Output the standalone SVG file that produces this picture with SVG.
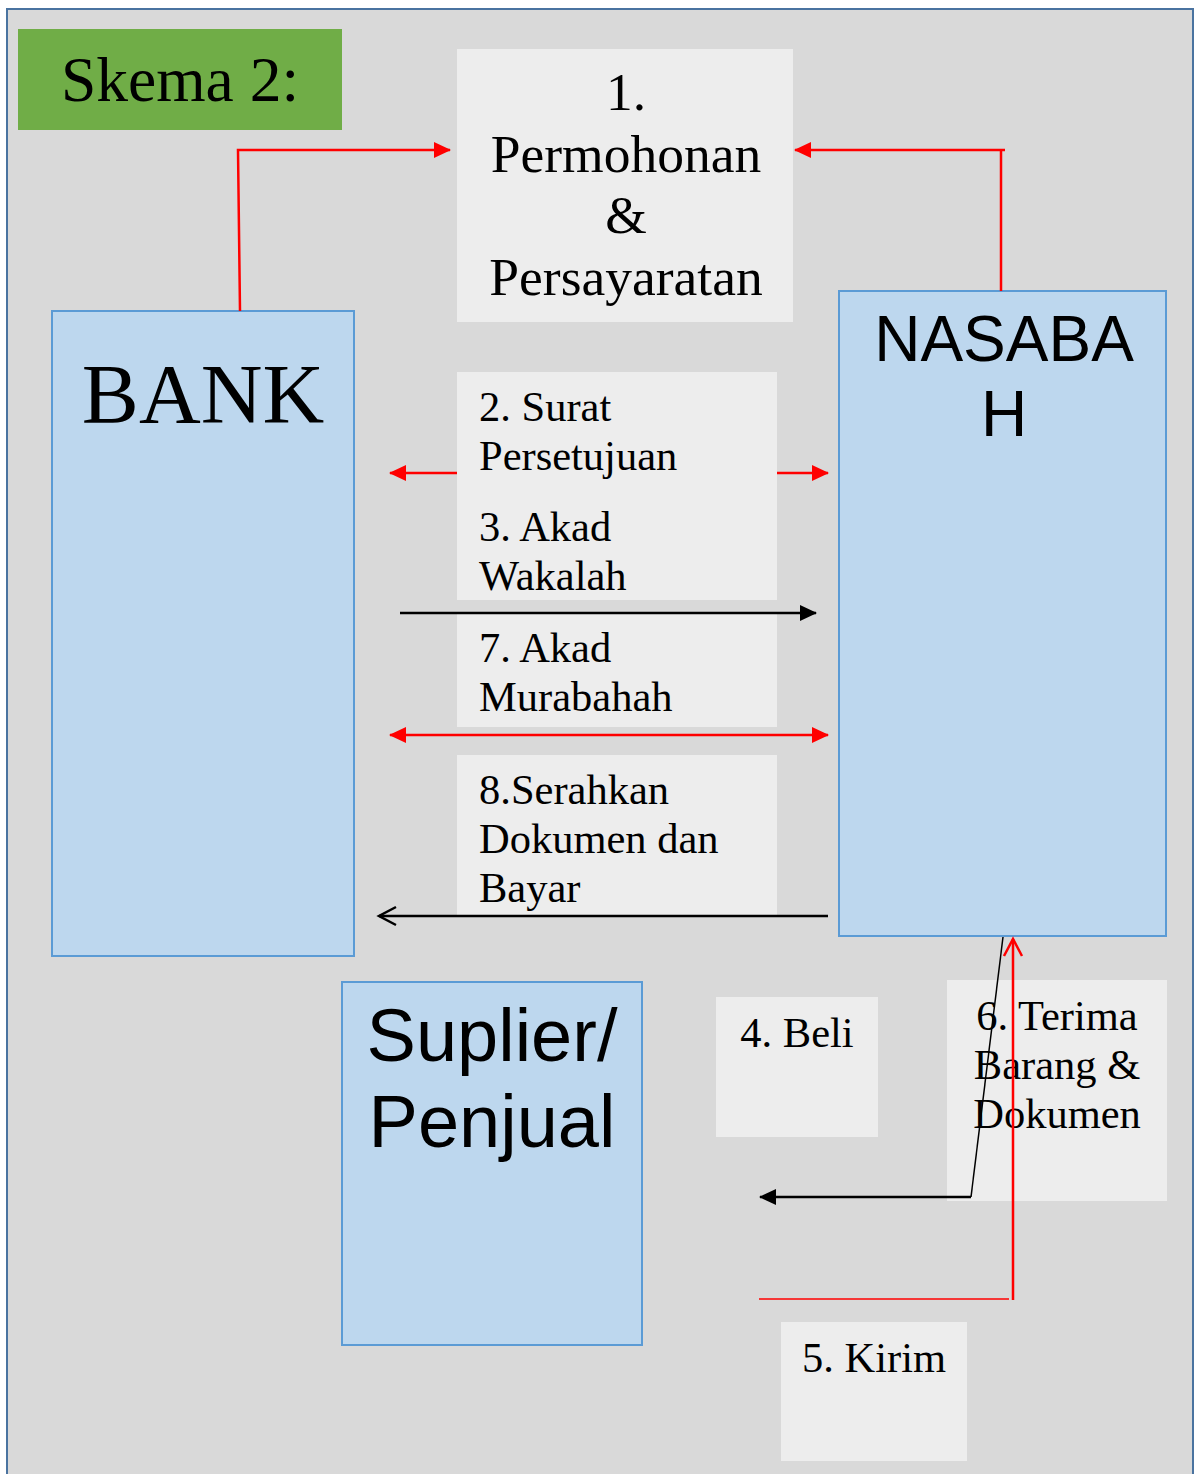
<svg xmlns="http://www.w3.org/2000/svg" width="1200" height="1474" viewBox="0 0 1200 1474">
<style>
.lbl{fill:#EDEDED}
.ent{fill:#BDD7EE;stroke:#5B9BD5;stroke-width:2}
.serif{font-family:"Liberation Serif","Times New Roman",serif;fill:#000}
.sans{font-family:"Liberation Sans",Arial,sans-serif;fill:#000}
.red{stroke:#FF0000;fill:none;stroke-width:2.5}
.blk{stroke:#000;fill:none;stroke-width:2.5}
</style>
<defs>
<marker id="rh" markerUnits="userSpaceOnUse" markerWidth="18" markerHeight="16" refX="16" refY="8" orient="auto-start-reverse" viewBox="0 0 18 16">
<path d="M0,0 L17,8 L0,16 Z" fill="#FF0000"/>
</marker>
<marker id="bh" markerUnits="userSpaceOnUse" markerWidth="18" markerHeight="16" refX="16" refY="8" orient="auto" viewBox="0 0 18 16">
<path d="M0,0 L17,8 L0,16 Z" fill="#000"/>
</marker>
<marker id="bo" markerUnits="userSpaceOnUse" markerWidth="22" markerHeight="22" refX="19" refY="11" orient="auto" viewBox="0 0 22 22">
<path d="M2,2 L19,11 L2,20" fill="none" stroke="#000" stroke-width="2.5"/>
</marker>
<marker id="ro" markerUnits="userSpaceOnUse" markerWidth="22" markerHeight="22" refX="19" refY="11" orient="auto" viewBox="0 0 22 22">
<path d="M2,2 L19,11 L2,20" fill="none" stroke="#FF0000" stroke-width="2.5"/>
</marker>
</defs>
<rect x="0" y="0" width="1200" height="1474" fill="#FFFFFF"/>
<rect x="7" y="9" width="1186" height="1475" fill="#D9D9D9" stroke="#4A73A0" stroke-width="2"/>

<g id="title">
<rect x="18" y="29" width="324" height="101" fill="#70AD47"/>
<text class="serif" x="180" y="101" font-size="63.5" text-anchor="middle">Skema 2:</text>
</g>

<g id="step1">
<rect class="lbl" x="457" y="49" width="336" height="273"/>
<text class="serif" font-size="53.5" text-anchor="middle"><tspan x="626" y="110">1.</tspan><tspan x="626" y="172">Permohonan</tspan><tspan x="626" y="233">&amp;</tspan><tspan x="626" y="295">Persayaratan</tspan></text>
</g>

<g id="bank">
<rect class="ent" x="52" y="311" width="302" height="645"/>
<text class="serif" x="203" y="423" font-size="85.5" text-anchor="middle">BANK</text>
</g>

<g id="nasabah">
<rect class="ent" x="839" y="291" width="327" height="645"/>
<text class="sans" font-size="64" text-anchor="middle"><tspan x="1004" y="361">NASABA</tspan><tspan x="1004" y="436">H</tspan></text>
</g>

<g id="supplier">
<rect class="ent" x="342" y="982" width="300" height="363"/>
<text class="sans" font-size="74" text-anchor="middle"><tspan x="492" y="1061">Suplier/</tspan><tspan x="492" y="1147">Penjual</tspan></text>
</g>

<g id="step23">
<rect class="lbl" x="457" y="372" width="320" height="228"/>
<text class="serif" font-size="42.5"><tspan x="479" y="421">2. Surat</tspan><tspan x="479" y="470">Persetujuan</tspan><tspan x="479" y="541">3. Akad</tspan><tspan x="479" y="590">Wakalah</tspan></text>
</g>

<g id="step7">
<rect class="lbl" x="457" y="613" width="320" height="114"/>
<text class="serif" font-size="42.5"><tspan x="479" y="662">7. Akad</tspan><tspan x="479" y="711">Murabahah</tspan></text>
</g>

<g id="step8">
<rect class="lbl" x="457" y="755" width="320" height="160"/>
<text class="serif" font-size="42.5"><tspan x="479" y="804">8.Serahkan</tspan><tspan x="479" y="853">Dokumen dan</tspan><tspan x="479" y="902">Bayar</tspan></text>
</g>

<g id="step4">
<rect class="lbl" x="716" y="997" width="162" height="140"/>
<text class="serif" x="797" y="1047" font-size="42.5" text-anchor="middle">4. Beli</text>
</g>

<g id="step6">
<rect class="lbl" x="947" y="980" width="220" height="221"/>
<text class="serif" font-size="42.5" text-anchor="middle"><tspan x="1057" y="1030">6. Terima</tspan><tspan x="1057" y="1079">Barang &amp;</tspan><tspan x="1057" y="1128">Dokumen</tspan></text>
</g>

<g id="step5">
<rect class="lbl" x="781" y="1322" width="186" height="139"/>
<text class="serif" x="874" y="1372" font-size="42.5" text-anchor="middle">5. Kirim</text>
</g>

<g id="connectors">
<path class="red" d="M240,311 L238,150 L450,150" marker-end="url(#rh)"/>
<path class="red" d="M1001,291 L1001,150"/>
<path class="red" d="M1005,150 L795,150" marker-end="url(#rh)"/>
<path class="red" d="M457,473 L390,473" marker-end="url(#rh)"/>
<path class="red" d="M777,473 L828,473" marker-end="url(#rh)"/>
<path class="blk" d="M400,613 L816,613" marker-end="url(#bh)"/>
<path class="red" d="M390,735 L828,735" marker-start="url(#rh)" marker-end="url(#rh)"/>
<path class="blk" d="M828,916 L379,916" marker-end="url(#bo)"/>
<path stroke="#000" fill="none" stroke-width="1.5" d="M1003,937 L971,1197"/>
<path class="blk" d="M971,1197 L760,1197" marker-end="url(#bh)"/>
<path stroke="#FF0000" fill="none" stroke-width="1.5" d="M759,1299 L1009,1299"/>
<path class="red" d="M1013,1300 L1013,939" marker-end="url(#ro)"/>
</g>
</svg>
